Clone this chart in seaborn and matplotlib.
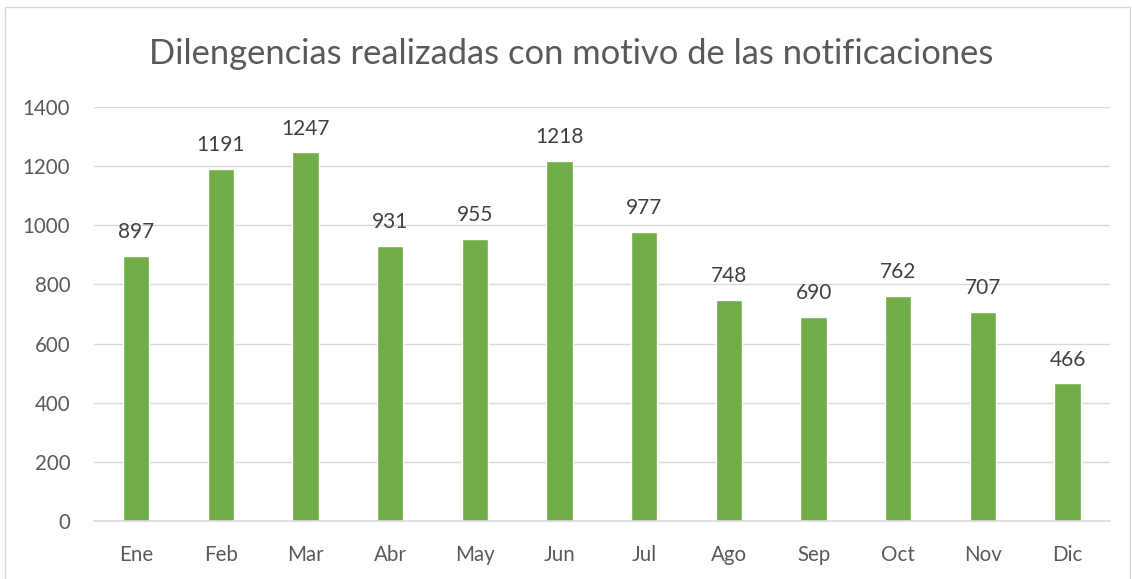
import pandas as pd
import seaborn as sns
import matplotlib.pyplot as plt
from matplotlib.patches import Rectangle

months = ['Ene', 'Feb', 'Mar', 'Abr', 'May', 'Jun', 'Jul', 'Ago', 'Sep', 'Oct', 'Nov', 'Dic']
values = [897, 1191, 1247, 931, 955, 1218, 977, 748, 690, 762, 707, 466]
y_ticks = [0, 200, 400, 600, 800, 1000, 1200, 1400]

df = pd.DataFrame({'Mes': months, 'Diligencias': values})

sns.set_theme(style="white")
plt.rcParams['font.family'] = ['Lato', 'DejaVu Sans']

text_color = '#595959'
fig = plt.figure(figsize=(11.32, 5.79), dpi=100)
ax = fig.add_axes([0.083, 0.1002, 0.8975, 0.715])

sns.barplot(data=df, x='Mes', y='Diligencias', color='#70AD47', width=0.31,
            saturation=1, ax=ax)

for i, v in enumerate(values):
    ax.text(i, v + 46, str(v), ha='center', va='bottom', fontsize=15, color='#404040')

ax.set_ylim(0, 1400)
ax.set_xlim(-0.5, len(months) - 0.5)
ax.set_yticks(y_ticks)
ax.yaxis.grid(True, color='#D9D9D9', linewidth=1)
ax.set_axisbelow(True)
for s in ['top', 'right', 'left']:
    ax.spines[s].set_visible(False)
ax.spines['bottom'].set_color('#D9D9D9')
ax.spines['bottom'].set_linewidth(1.2)
ax.tick_params(axis='both', length=0, labelsize=14.8, colors=text_color)
ax.tick_params(axis='x', pad=17)
ax.tick_params(axis='y', pad=17)
ax.set_xlabel('')
ax.set_ylabel('')

fig.text(0.505, 0.907, 'Dilengencias realizadas con motivo de las notificaciones',
         ha='center', va='center', fontsize=24.8, color=text_color)

fig.patches.append(Rectangle((5 / 1132, -0.01), 1125 / 1132, 1 - 7 / 579 + 0.01,
                             transform=fig.transFigure, fill=False,
                             edgecolor='#D9D9D9', linewidth=1))

fig.savefig('out.png', dpi=100)
